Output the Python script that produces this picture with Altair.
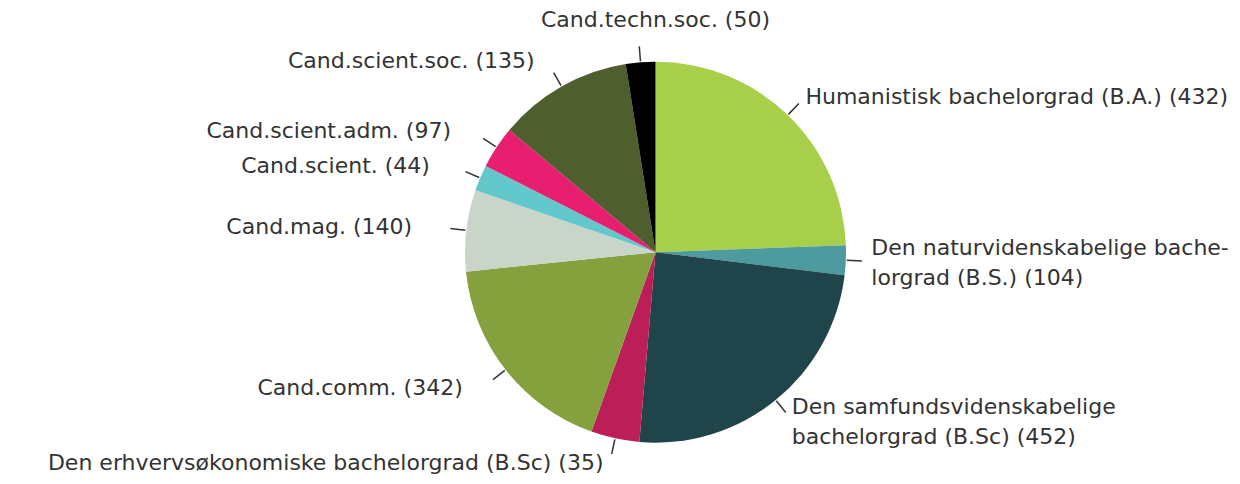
import altair as alt
import pandas as pd

# Slice labels (as printed in the chart)
labels = [
    "Humanistisk bachelorgrad (B.A.) (432)",
    "Den naturvidenskabelige bache-\nlorgrad (B.S.) (104)",
    "Den samfundsvidenskabelige\nbachelorgrad (B.Sc) (452)",
    "Den erhvervsøkonomiske bachelorgrad (B.Sc) (35)",
    "Cand.comm. (342)",
    "Cand.mag. (140)",
    "Cand.scient. (44)",
    "Cand.scient.adm. (97)",
    "Cand.scient.soc. (135)",
    "Cand.techn.soc. (50)",
]
# Slice sizes (percent of the full circle)
shares = [24.4, 2.5, 24.4, 4.1, 17.9, 6.9, 2.2, 3.6, 11.4, 2.5]
colors = ["#a8cf4a", "#4e9b9f", "#1f454b", "#bc1f57", "#84a13e",
          "#c9d5c9", "#63c8cc", "#e81f70", "#4e5e2d", "#000000"]

df = pd.DataFrame({
    "label": labels,
    "share": shares,
    "order": list(range(len(labels))),
})

CX, CY, R = 647.5, 244.2, 190.5
FONT = "DejaVu Sans"

base = alt.Chart(df)

pie = base.mark_arc(outerRadius=R).encode(
    theta=alt.Theta("share:Q", stack=True),
    color=alt.Color("label:N", scale=alt.Scale(domain=labels, range=colors), legend=None),
    order=alt.Order("order:Q"),
    x=alt.value(CX),
    y=alt.value(CY),
)

calc = base.transform_joinaggregate(
    total="sum(share)"
).transform_window(
    cum="sum(share)", sort=[alt.SortField("order")], frame=[None, 0]
).transform_calculate(
    mid="(datum.cum - datum.share / 2) / datum.total * 2 * PI",
    multi="indexof(datum.label, '\\n') >= 0 ? 1 : 0",
).transform_calculate(
    side="(datum.mid < PI / 12 || datum.mid > 23 * PI / 12) ? 'top' : (datum.mid < PI ? 'right' : 'left')"
)

leaders = calc.transform_calculate(
    lx1=f"{CX} + {R + 1} * sin(datum.mid)",
    ly1=f"{CY} - {R + 1} * cos(datum.mid)",
    lx2=f"{CX} + {R + 16} * sin(datum.mid)",
    ly2=f"{CY} - {R + 16} * cos(datum.mid)",
).mark_rule(color="#333333", strokeWidth=1.5).encode(
    x=alt.X("lx1:Q", scale=None, axis=None),
    y=alt.Y("ly1:Q", scale=None, axis=None),
    x2="lx2:Q",
    y2="ly2:Q",
)

text_style = dict(font=FONT, fontSize=22, color="#333333", lineBreak="\n", lineHeight=30, baseline="middle")

right_labels = calc.transform_filter("datum.side == 'right'").transform_calculate(
    tx=f"{CX} + 216 * sin(datum.mid)",
    ty=f"{CY} - 216 * cos(datum.mid) - 13 * datum.multi",
).mark_text(align="left", **text_style).encode(
    x=alt.X("tx:Q", scale=None, axis=None),
    y=alt.Y("ty:Q", scale=None, axis=None),
    text="label:N",
)

left_labels = calc.transform_filter("datum.side == 'left'").transform_calculate(
    tx=f"{CX} + 245 * sin(datum.mid)",
    ty=f"min({CY} - 220 * cos(datum.mid), 455)",
).mark_text(align="right", **text_style).encode(
    x=alt.X("tx:Q", scale=None, axis=None),
    y=alt.Y("ty:Q", scale=None, axis=None),
    text="label:N",
)

top_labels = calc.transform_filter("datum.side == 'top'").transform_calculate(
    tx=f"{CX}",
    ty=f"{CY} - 232",
).mark_text(align="center", **text_style).encode(
    x=alt.X("tx:Q", scale=None, axis=None),
    y=alt.Y("ty:Q", scale=None, axis=None),
    text="label:N",
)

chart = alt.layer(pie, leaders, right_labels, left_labels, top_labels).properties(
    width=1224,
    height=468,
    autosize=alt.AutoSizeParams(type="none"),
    padding=0,
).configure_view(stroke=None)

chart.save("out.html", embed_options={"renderer": "svg", "actions": False})
